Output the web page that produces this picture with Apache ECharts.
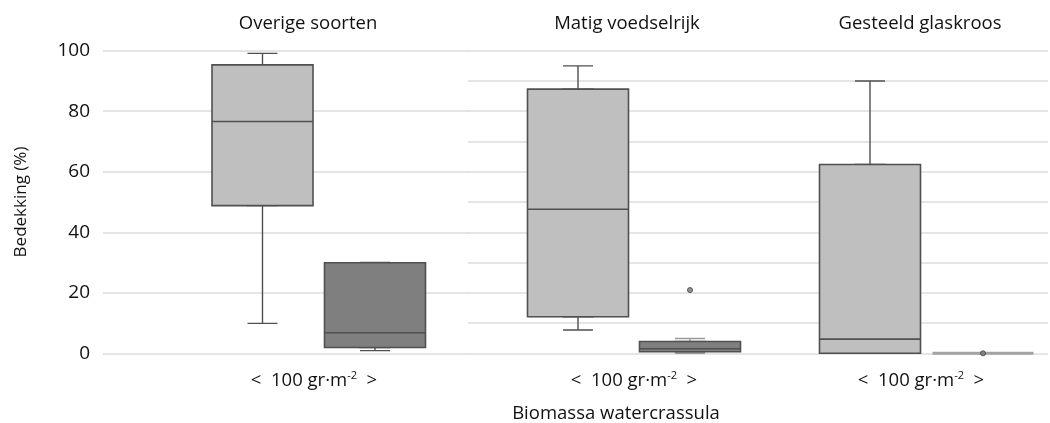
<!DOCTYPE html>
<html>
<head>
<meta charset="utf-8">
<script src="https://cdn.jsdelivr.net/npm/echarts@6/dist/echarts.min.js"></script>
<style>
  html, body { margin: 0; padding: 0; background: #ffffff; }
  #chart { width: 1050px; height: 423px; }
</style>
</head>
<body>
<div id="chart"></div>
<script>
// Biomass classes (below / above 100 g per m2)
const categories = ['< 100', '> 100'];
const panelTitles = ['Overige soorten', 'Matig voedselrijk', 'Gesteeld glaskroos'];

// Box statistics per class: [min, Q1, median, Q3, max]
const overigeSoorten = [[9.9, 48.8, 76.6, 95.3, 99.1], [0.9, 1.9, 6.8, 29.9, 30.0]];
const matigVoedselrijk = [[7.7, 12.1, 47.6, 87.3, 95.0], [0.0, 0.5, 1.5, 3.9, 4.9]];
const gesteeldGlaskroos = [[0.0, 0.0, 4.7, 62.4, 90.0], [0.0, 0.0, 0.0, 0.0, 0.0]];

// Outliers per panel: [class index, value]
const overigeOutliers = [];
const matigOutliers = [[1, 20.9]];
const gesteeldOutliers = [[1, 0.0]];

// Cover axis
const yMin = 0;
const yMax = 100;
const yTicksLeft = 20;
const yTicksRight = 10;

const panels = [overigeSoorten, matigVoedselrijk, gesteeldGlaskroos];
const panelOutliers = [overigeOutliers, matigOutliers, gesteeldOutliers];

const FONT = '"Open Sans", "DejaVu Sans", sans-serif';
const TEXT = '#111111';
const BORDER = '#505050';
const FILLS = ['#bfbfbf', '#7f7f7f'];
const GRIDLINE = '#dcdcdc';

const TOP = 50.7;
const BOTTOM = 69.7;

// Box grids: one per panel, sized so the two classes sit side by side
const boxGrids = [
  { left: 206.25, width: 225 },
  { left: 522, width: 224 },
  { left: 813.5, width: 226 }
];

const grid = [
  { left: 103, width: 366, top: TOP, bottom: BOTTOM },   // panel 1 background
  { left: 468, width: 580, top: TOP, bottom: BOTTOM }    // panels 2-3 background
];
boxGrids.forEach(g => grid.push({ left: g.left, width: g.width, top: TOP, bottom: BOTTOM }));

const xAxis = [
  { gridIndex: 0, type: 'value', min: 0, max: 1, show: false },
  { gridIndex: 1, type: 'value', min: 0, max: 1, show: false }
];
const yAxis = [
  {
    gridIndex: 0, type: 'value', min: yMin, max: yMax, interval: yTicksLeft,
    name: 'Bedekking (%)', nameLocation: 'middle', nameGap: 73, nameRotate: 90,
    nameTextStyle: { fontFamily: FONT, fontSize: 17, color: TEXT },
    axisLine: { show: false }, axisTick: { show: false },
    axisLabel: { fontFamily: FONT, fontSize: 19, color: TEXT, margin: 13 },
    splitLine: { lineStyle: { color: GRIDLINE, width: 1.5 } }
  },
  {
    gridIndex: 1, type: 'value', min: yMin, max: yMax, interval: yTicksRight,
    axisLine: { show: false }, axisTick: { show: false }, axisLabel: { show: false },
    splitLine: { lineStyle: { color: GRIDLINE, width: 1.5 } }
  }
];

const series = [];
panels.forEach((stats, p) => {
  const gi = 2 + p;
  const wideX = xAxis.length;
  xAxis.push({ gridIndex: gi, type: 'category', data: categories, show: false });
  const narrowX = xAxis.length;
  xAxis.push({ gridIndex: gi, type: 'category', data: categories, show: false });
  const yi = yAxis.length;
  yAxis.push({ gridIndex: gi, type: 'value', min: yMin, max: yMax, show: false });

  // whiskers with short caps
  series.push({
    type: 'boxplot', xAxisIndex: narrowX, yAxisIndex: yi, z: 2,
    boxWidth: [30, 30], silent: true,
    data: stats.map((s, i) => ({
      value: s,
      itemStyle: {
        color: FILLS[i],
        borderColor: (p === 1 && i === 1) ? '#9a9a9a' : BORDER,
        borderWidth: 1.4
      }
    }))
  });
  // interquartile boxes with median line
  series.push({
    type: 'boxplot', xAxisIndex: wideX, yAxisIndex: yi, z: 3,
    boxWidth: [101, 101], silent: true,
    data: stats.map((s, i) => {
      const flat = s[1] === s[3];
      return {
        value: [s[1], s[1], s[2], s[3], s[3]],
        itemStyle: {
          color: FILLS[i],
          borderColor: flat ? '#a3a3a3' : BORDER,
          borderWidth: flat ? 3 : 1.6
        }
      };
    })
  });
  // outliers
  series.push({
    type: 'scatter', xAxisIndex: wideX, yAxisIndex: yi, z: 4, silent: true,
    symbol: 'circle', symbolSize: 5,
    itemStyle: { color: '#7a7a7a', borderColor: '#3a3a3a', borderWidth: 1 },
    data: panelOutliers[p]
  });
});

const sup = { fontFamily: FONT, fontSize: 11, fontWeight: 'normal', color: TEXT, verticalAlign: 'top', lineHeight: 22, padding: [0, 0, 10, 0] };
const base = { fontFamily: FONT, fontSize: 18.5, fontWeight: 'normal', color: TEXT, lineHeight: 22 };
const xLabel = (x) => ({
  text: '<  100 gr·m{sup|-2}  >',
  left: x, top: 365, textAlign: 'center',
  textStyle: { ...base, rich: { sup } }
});

const title = [
  { text: panelTitles[0], left: 303, top: 8, textAlign: 'center', textStyle: { ...base } },
  { text: panelTitles[1], left: 622, top: 8, textAlign: 'center', textStyle: { ...base } },
  { text: panelTitles[2], left: 915, top: 8, textAlign: 'center', textStyle: { ...base } },
  xLabel(309), xLabel(629), xLabel(916),
  { text: 'Biomassa watercrassula', left: 611, top: 398, textAlign: 'center', textStyle: { ...base } }
];

const chart = echarts.init(document.getElementById('chart'), null, { renderer: 'canvas' });
chart.setOption({
  backgroundColor: '#ffffff',
  animation: false,
  title, grid, xAxis, yAxis, series
});
</script>
</body>
</html>
